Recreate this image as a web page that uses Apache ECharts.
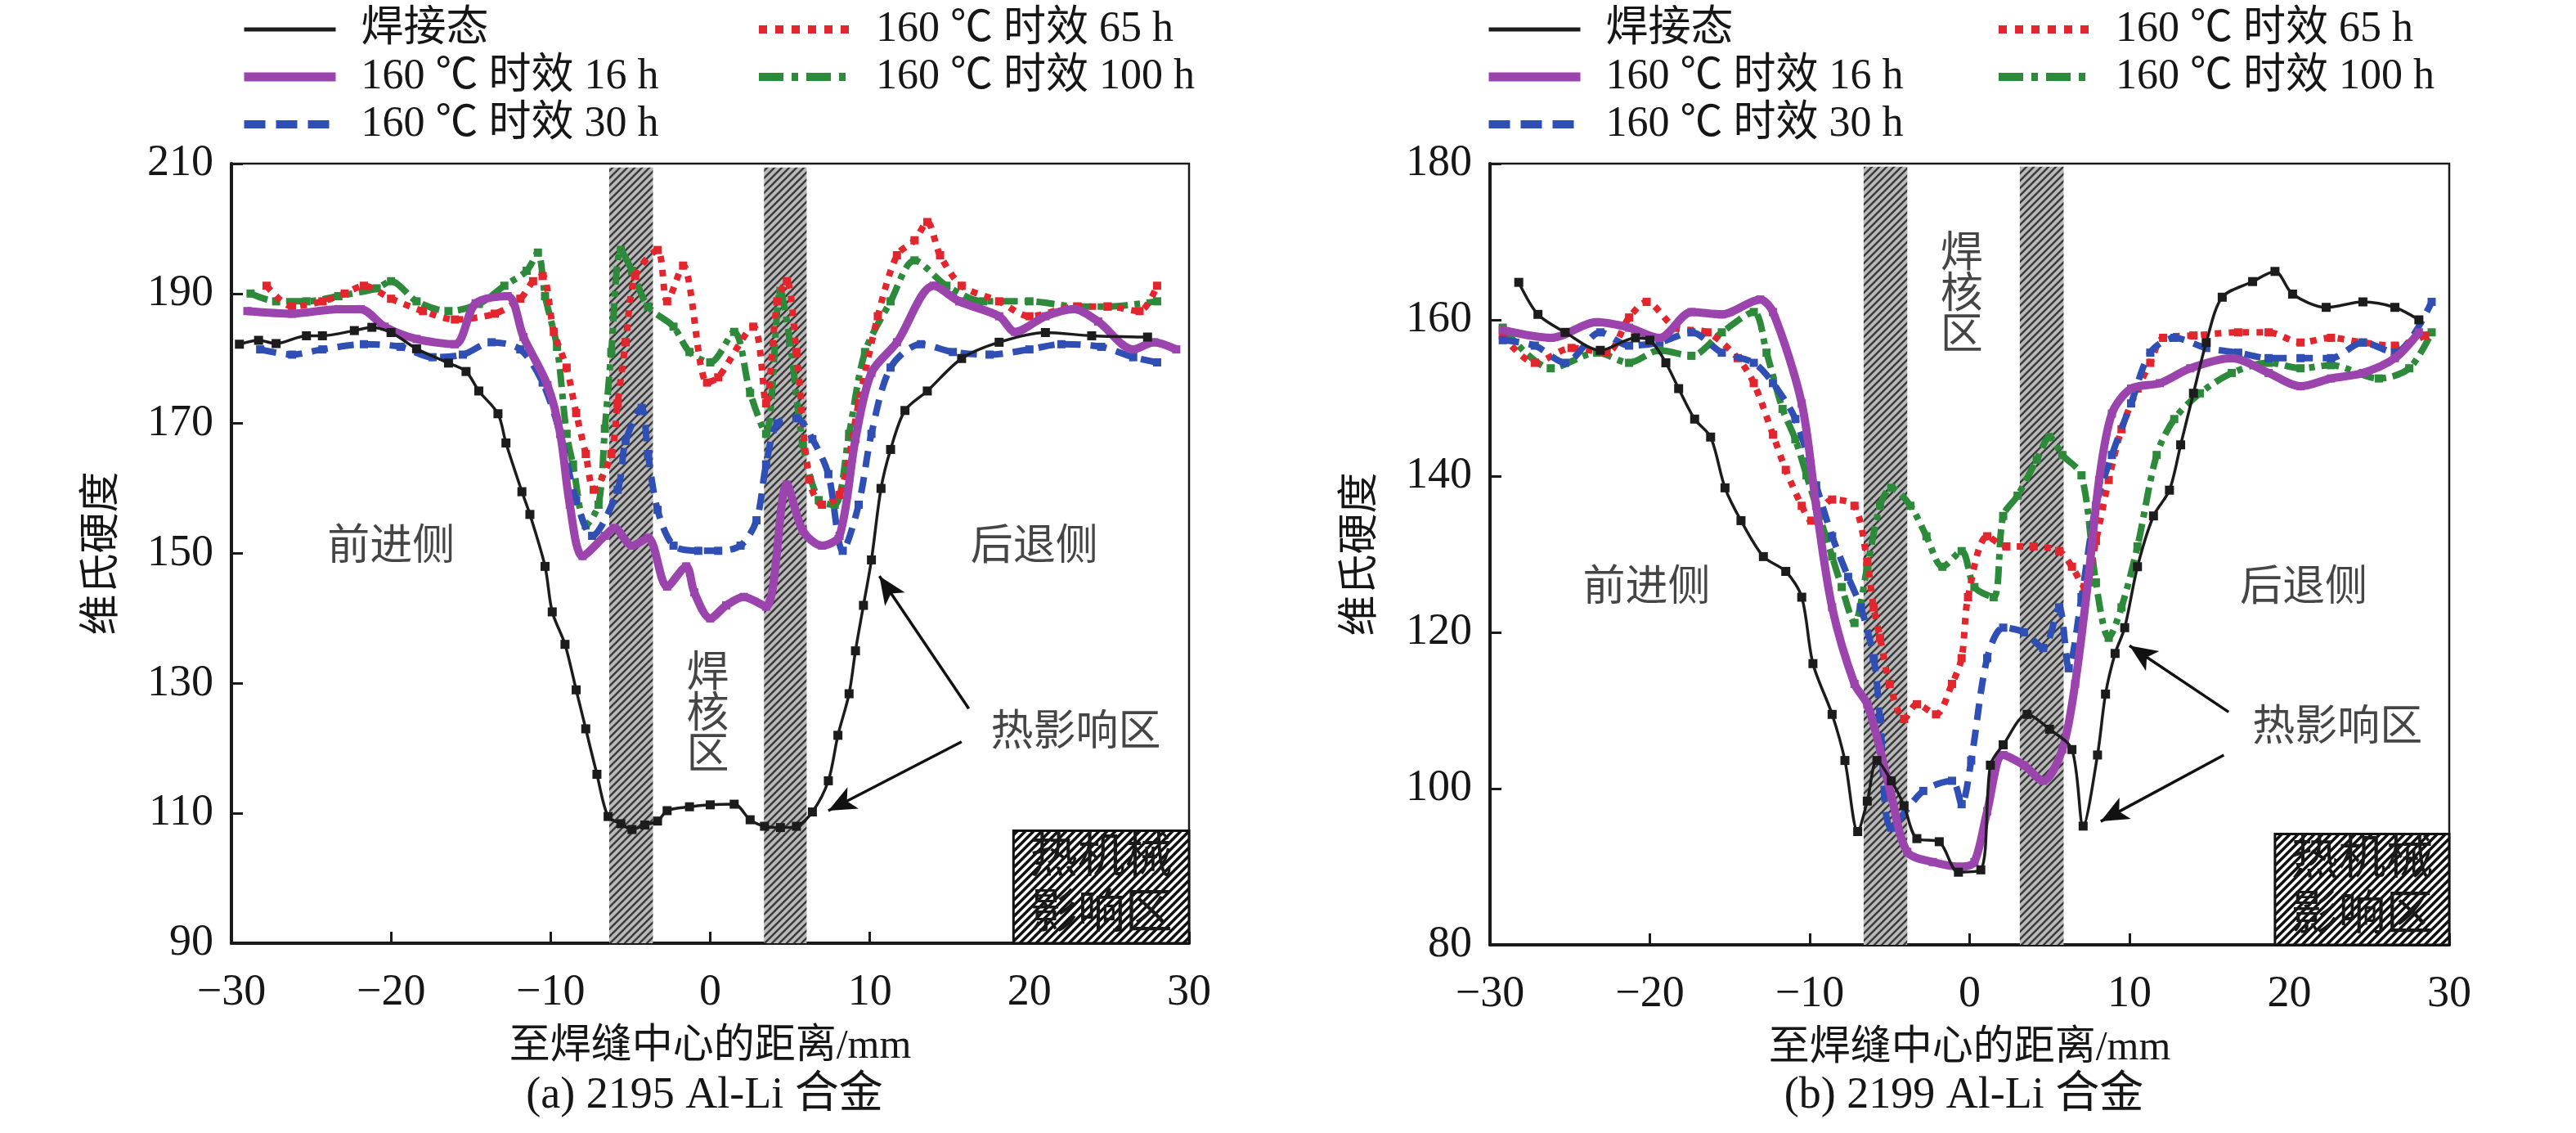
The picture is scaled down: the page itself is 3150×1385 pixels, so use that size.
<!DOCTYPE html>
<html style="height: 100%">
<head>
<meta charset="utf-8">
</head>
<body style="height: 100%; margin: 0; background: #fff">
<div id="container" style="width: 3150px; height: 1385px"></div>
<script type="text/javascript" src="https://cdn.jsdelivr.net/npm/echarts@6/dist/echarts.min.js"></script>
<script type="text/javascript">
// series names (legend)
var names = ['焊接态', '160 ℃ 时效 16 h', '160 ℃ 时效 30 h', '160 ℃ 时效 65 h', '160 ℃ 时效 100 h'];
var subtitles = ['(a) 2195 Al-Li 合金', '(b) 2199 Al-Li 合金'];
var xName = '至焊缝中心的距离/mm';
var yName = '维氏硬度';

// (a) 2195 -- [distance mm, HV]
var weldA = [[-29.5,182.2],[-28.3,182.8],[-27.2,182.3],[-25.3,183.5],[-24.3,183.5],[-22.3,184.3],[-21.2,184.8],[-20,184],[-18.4,181.5],[-16.4,179.3],[-15.3,178],[-14.5,175],[-13.3,171.5],[-12.8,167],[-11.8,159.5],[-11.3,156],[-10.35,148],[-9.9,141],[-9.1,136],[-8.4,129],[-7.8,123],[-7.1,116],[-6.4,109.5],[-5.6,108.4],[-4.9,107.5],[-4.1,108.2],[-3.3,108.8],[-2.7,110.4],[-1.3,111],[0,111.3],[1.5,111.4],[2.5,109],[3.4,108],[4.4,107.8],[5.4,108],[6.4,110.2],[7.4,115],[8,122],[8.7,128.4],[9.1,135],[9.6,142],[10.1,149],[10.7,160],[11.3,166],[12.2,172],[13.6,175],[15.75,180],[18.1,182.5],[21,184],[23.9,183.5],[27.4,183.3]];
var h16A = [[-29,187.3],[-26.2,186.9],[-23.3,187.6],[-21.9,187.6],[-20.4,184.9],[-18.4,183],[-16,182.2],[-14.7,188.5],[-12.7,189.6],[-11.7,183.3],[-10.2,175.9],[-9.4,168.4],[-8.8,157.5],[-8,149.6],[-6.6,152.7],[-6,153.9],[-4.9,151.2],[-3.9,152.4],[-2.7,144.9],[-1.5,148],[-1,144],[0,140],[1,142],[2.1,143.3],[3.5,141.8],[4.8,160.6],[5.8,153.5],[7,151.2],[8.1,152.7],[9.1,167.6],[10.1,177.8],[11.7,182.5],[14,191.2],[15.6,188.8],[18.1,186.5],[19.1,184.1],[21,186.5],[22.8,187.6],[24.3,185.7],[26.5,181.4],[27.8,182.5],[29.2,181.4]];
var h30A = [[-28.2,181.4],[-26.2,180.6],[-24.3,181.4],[-21.7,182.2],[-19.4,181.8],[-17.4,180.2],[-15.5,180.6],[-13.7,182.5],[-11.9,181.4],[-10.5,176.3],[-9.4,168.4],[-8.4,158.2],[-7.4,152.7],[-5.8,159.8],[-5.3,167.3],[-4.3,172.4],[-3.9,165.3],[-3.3,156.7],[-2.3,151.2],[-0.75,150.4],[0.5,150.4],[1.9,151.2],[2.9,155.1],[3.5,163.7],[4.2,170],[5.4,170.8],[6.4,167.6],[7.4,162.2],[8.3,150.4],[9.3,157.5],[10.1,168.4],[11.3,178.6],[13.2,182.2],[15.2,181],[17.5,180.6],[20,181.4],[22,182.2],[24.5,181.8],[26.5,180.2],[28,179.4]];
var h65A = [[-27.8,191.2],[-26.2,188],[-24.3,188.8],[-22.9,190],[-21.7,191.2],[-20,189.2],[-18,187.3],[-16,186],[-13.5,186.9],[-11.9,189.2],[-11.1,191.9],[-10.5,192.7],[-9.8,184.1],[-9,178.6],[-8.4,171.6],[-7.8,165.3],[-7.3,159.8],[-6.2,165.3],[-5.8,173.1],[-5.3,182.5],[-4.7,192.7],[-3.3,196.7],[-2.7,188.8],[-1.7,194.3],[-0.2,176.3],[0.5,177.1],[2.7,184.9],[3.5,173.1],[4.2,188.8],[4.8,191.9],[5.4,181],[6.2,161.4],[7,157.5],[8.1,159],[9.3,173.1],[10.5,186.5],[11.7,195.9],[12.8,198.2],[13.6,201],[14.4,195.9],[15.75,191.2],[18.1,188.8],[20,186.5],[23,188],[24.9,188],[26.9,187.3],[28,191.2]];
var h100A = [[-28.8,190],[-27.2,188.8],[-25.3,188.8],[-23.3,189.6],[-20.9,190.8],[-20,191.9],[-18.4,188.8],[-16.4,187.3],[-14.5,188.4],[-12.9,191.2],[-11.5,193.5],[-10.8,196.3],[-10.35,189.6],[-9.6,181.8],[-9,168.4],[-8.6,163.7],[-7.8,154.3],[-7,157.5],[-6.6,169.2],[-6.2,181],[-5.6,196.7],[-4.9,193.5],[-3.9,188],[-2.3,184.9],[-1.3,181],[0,179.4],[1.5,184.1],[2.5,174.7],[3.5,168.4],[4.4,190.4],[5,182.5],[5.8,166.9],[6.8,158.2],[7.8,157.5],[8.7,168.4],[9.7,181],[11.3,188.8],[12.8,195.1],[14.8,191.2],[17.1,188.8],[20,188.8],[23,188],[24.9,188],[28,188.8]];

// (b) 2199
var weldB = [[-28.2,164.8],[-27,160.7],[-25.3,158.4],[-23.1,156.1],[-20.9,157.7],[-20,157.4],[-19,154.5],[-18.2,151.2],[-17.2,147.3],[-16.2,145],[-15.3,138.5],[-14.3,134.3],[-12.9,129.7],[-11.5,127.8],[-10.5,124.5],[-9.8,116],[-8.6,109.5],[-7.8,103.6],[-7,94.5],[-6.4,98.4],[-5.8,103.6],[-4.9,101],[-4.1,97.8],[-3.3,93.6],[-1.9,93.2],[-0.7,89.3],[0.7,89.6],[1.3,103],[2.1,105.6],[3.6,109.5],[5,107.6],[6.4,105],[7.1,95.2],[8,104.3],[8.5,112.1],[9.1,117.3],[9.7,120.6],[10.5,128.4],[11.5,134.9],[12.5,138.2],[13.2,144],[14,150.6],[14.8,157.1],[15.8,162.9],[17.7,164.9],[19.1,166.2],[20.2,163.3],[22.3,161.6],[24.6,162.3],[26.6,161.6],[28.1,160]];
var h16B = [[-29.2,158.7],[-26.2,157.7],[-23.3,159.7],[-21.3,159],[-19.4,157.7],[-17.4,161],[-15.5,160.7],[-13.1,162.6],[-12.3,161],[-10.5,149.3],[-9.6,136.2],[-8.6,123.2],[-7.2,113.4],[-6.4,110.8],[-5.6,105],[-4.9,99.1],[-3.9,91.9],[-2.3,90.6],[-0.5,90],[0.3,90.6],[1.1,97.1],[2.1,104.3],[3.4,103],[4.6,101],[5.8,105],[6.6,113.4],[7.4,126.4],[8.1,139.5],[8.9,148],[10.1,151.2],[11.9,151.9],[13.8,153.8],[16.4,155.1],[18.7,153.2],[20.7,151.5],[22.6,152.5],[24.6,153.2],[26.6,155.1],[28.1,158.4]];
var h30B = [[-29.2,157.4],[-27.2,156.7],[-25.3,154.5],[-23.1,158.4],[-21.3,156.7],[-19.4,157.1],[-17.4,158.4],[-15.5,155.8],[-13.5,154.5],[-12.3,151.9],[-10.9,147.3],[-9.6,138.8],[-8.6,132.3],[-7.6,127.1],[-6.8,123.2],[-6,116.7],[-5.6,108.9],[-4.9,95],[-2.9,99.7],[-1.1,101],[-0.5,98],[0.1,103.6],[1.1,116.7],[2.1,120.6],[3.4,120],[4.6,118],[5.6,123.2],[6.2,115.4],[7,124.5],[7.9,136.2],[8.9,142.7],[10.1,149.3],[11.3,155.8],[12.8,157.7],[14.8,156.4],[16.8,155.8],[18.7,155.1],[20.7,155.1],[22.6,155.1],[24.6,157.1],[26.6,155.8],[28.9,162.3]];
var h65B = [[-29.2,158],[-27.2,154.5],[-24.9,156.4],[-22.7,155.8],[-21.3,160.3],[-20.2,162.3],[-18.4,159],[-16.4,158.4],[-14.5,155.1],[-13.5,151.9],[-12.3,145.3],[-11.5,140.8],[-10.5,136.2],[-9.9,134.3],[-8.6,137],[-7.2,136.2],[-6.4,129],[-6,123.2],[-5.6,119.3],[-5,113.4],[-4.1,108.9],[-3.3,110.8],[-2.1,109.5],[-1.1,113.4],[-0.5,116.7],[-0.1,124.5],[1.1,132.3],[2.3,131],[4,131],[5.6,130.4],[6.4,128.4],[7.2,125.8],[7.9,131.7],[8.7,139.5],[9.5,146],[10.5,151.2],[11.3,154.5],[12.1,157.7],[14,158],[16.8,158.4],[18.7,158.4],[20.7,157.1],[22.6,157.7],[24.6,157.1],[26.6,156.7],[28.5,158]];
var h100B = [[-29.2,159],[-26.2,153.8],[-23.3,155.8],[-21.3,154.5],[-19.4,156.1],[-17.4,155.4],[-15.5,158.4],[-13.5,161],[-12.7,155.8],[-11.7,148.6],[-10.9,144.7],[-10.2,140.1],[-9.4,134.9],[-8.6,129.7],[-8,125.8],[-7.2,121.2],[-6.4,128.4],[-5.6,136.2],[-4.9,138.5],[-3.7,136.2],[-2.7,132.3],[-1.7,128.4],[-0.5,130.4],[0.3,125.8],[1.5,124.5],[2.1,134.9],[3,137.5],[4.2,142.1],[5,145],[5.8,142.7],[7,140.1],[7.9,126.4],[8.7,119.3],[9.5,123.2],[10.5,131],[11.7,142.7],[12.8,147.3],[14.4,150.6],[16.4,153.2],[18.7,154.5],[20.7,153.8],[22.6,154.2],[25.6,152.5],[27.5,153.8],[28.9,158.4]];

// zones: stir-zone boundary bands and TMAZ legend box
var bandsA = [[-6.33, -3.59], [3.37, 6.04]];
var bandsB = [[-6.63, -3.9], [3.14, 5.88]];
var boxA = [19, 30, 90, 107.3];
var boxB = [19.1, 30, 80, 94.2];
var boxText = '热机械\n影响区';

// annotations [text, x, y]
var notesA = [['前进侧', -20, 150.8], ['后退侧', 20.3, 150.8], ['焊\n核\n区', -0.15, 125], ['热影响区', 22.9, 122.2]];
var notesB = [['前进侧', -20.2, 125.5], ['后退侧', 20.9, 125.5], ['焊\n核\n区', -0.5, 163], ['热影响区', 23, 107.6]];
var arrowsA = [[[16.2, 126.1], [10.6, 146.5]], [[15.75, 121], [7.4, 110.4]]];
var arrowsB = [[[16.2, 109.8], [10.0, 118.3]], [[15.9, 104.3], [8.2, 95.8]]];

var FONT = '"Liberation Serif", "Times New Roman", "Noto Sans CJK SC", serif';

var looks = [
    {color: '#1c1c1c', width: 3.5, type: 'solid', z: 7, lw: 5, ltype: 'solid'},
    {color: '#9b44ad', width: 10, type: 'solid', z: 6, lw: 11, ltype: 'solid'},
    {color: '#2f4fb5', width: 8, type: [20, 12], z: 5, lw: 10, ltype: [26, 13]},
    {color: '#e3262d', width: 8, type: [8, 9], z: 4, lw: 10, ltype: [10, 10]},
    {color: '#2d8a3a', width: 8, type: [22, 8, 7, 8], z: 3, lw: 10, ltype: [30, 10, 8, 10]}
];

function hatch(bg, fg, size, lw) {
    var c = document.createElement('canvas');
    c.width = size; c.height = size;
    var ctx = c.getContext('2d');
    ctx.fillStyle = bg;
    ctx.fillRect(0, 0, size, size);
    ctx.strokeStyle = fg;
    ctx.lineWidth = lw;
    ctx.beginPath();
    ctx.moveTo(-size, 2 * size); ctx.lineTo(2 * size, -size);
    ctx.moveTo(-size, size); ctx.lineTo(size, -size);
    ctx.moveTo(0, 2 * size); ctx.lineTo(2 * size, 0);
    ctx.stroke();
    return c;
}
var bandFill = {image: hatch('#b9b9b9', '#3a3a3a', 9, 2.4), repeat: 'repeat'};
var boxFill = {image: hatch('#ffffff', '#111111', 10, 3.6), repeat: 'repeat'};

var dom = document.getElementById('container');
var myChart = echarts.init(dom);

var groups = [
    {data: [weldA, h16A, h30A, h65A, h100A], bands: bandsA, box: boxA, notes: notesA, arrows: arrowsA, ymin: 90, ymax: 210, top: 209.4},
    {data: [weldB, h16B, h30B, h65B, h100B], bands: bandsB, box: boxB, notes: notesB, arrows: arrowsB, ymin: 80, ymax: 180, top: 179.6}
];

var series = [];
groups.forEach(function (g, gi) {
    // data lines
    g.data.forEach(function (d, i) {
        var lk = looks[i];
        series.push({
            name: names[i],
            type: 'line',
            xAxisIndex: gi,
            yAxisIndex: gi,
            data: d,
            smooth: 0.3,
            symbol: 'rect',
            symbolSize: i === 0 ? 11 : 10,
            showAllSymbol: true,
            z: lk.z,
            lineStyle: {color: lk.color, width: lk.width, type: lk.type},
            itemStyle: {color: lk.color},
            emphasis: {disabled: true}
        });
    });
    // zones, text and arrows
    var areas = g.bands.map(function (b) {
        return [{xAxis: b[0], yAxis: g.ymin, itemStyle: {color: bandFill, borderWidth: 0}},
                {xAxis: b[1], yAxis: g.top}];
    });
    areas.push([{xAxis: g.box[0], yAxis: g.box[2],
                 itemStyle: {color: boxFill, borderColor: '#111', borderWidth: 3},
                 label: {show: true, position: 'inside', formatter: boxText, fontSize: 58,
                         lineHeight: 68, color: '#1a1a1a', fontFamily: FONT}},
                {xAxis: g.box[1], yAxis: g.box[3]}]);
    series.push({
        type: 'scatter',
        xAxisIndex: gi,
        yAxisIndex: gi,
        z: 1,
        silent: true,
        symbolSize: 0,
        data: g.notes.map(function (n) { return {name: n[0], value: [n[1], n[2]]}; }),
        label: {show: true, position: 'inside', formatter: '{b}', fontSize: 52, lineHeight: 50,
                color: '#161616', fontFamily: FONT},
        markArea: {silent: true, data: areas, label: {show: false}},
        markLine: {
            silent: true,
            symbol: ['none', 'arrow'],
            symbolSize: [22, 34],
            label: {show: false},
            lineStyle: {color: '#111', width: 3.5, type: 'solid'},
            data: g.arrows.map(function (a) { return [{coord: a[0]}, {coord: a[1]}]; })
        }
    });
});

var gridsPos = [{left: 283, top: 200, width: 1171, height: 953}, {left: 1822, top: 200, width: 1173, height: 955}];

function xAxisOf(gi) {
    return {
        gridIndex: gi, type: 'value', min: -30, max: 30, interval: 10,
        name: xName, nameLocation: 'middle', nameGap: 102,
        nameTextStyle: {fontSize: 50, color: '#161616', fontFamily: FONT},
        axisLine: {onZero: false, lineStyle: {color: '#1a1a1a', width: 4}},
        axisTick: {inside: true, length: 14, lineStyle: {width: 3, color: '#1a1a1a'}},
        axisLabel: {fontSize: 54, color: '#161616', fontFamily: FONT, margin: 34,
                    formatter: function (v) { return v < 0 ? '\u2212' + (-v) : String(v); }},
        splitLine: {show: false}
    };
}
function yAxisOf(gi) {
    var g = groups[gi];
    return {
        gridIndex: gi, type: 'value', min: g.ymin, max: g.ymax, interval: 20,
        name: yName, nameLocation: 'middle', nameGap: 132,
        nameTextStyle: {fontSize: 50, color: '#161616', fontFamily: FONT},
        axisLine: {onZero: false, lineStyle: {color: '#1a1a1a', width: 4}},
        axisTick: {inside: true, length: 14, lineStyle: {width: 3, color: '#1a1a1a'}},
        axisLabel: {fontSize: 54, color: '#161616', fontFamily: FONT, margin: 22},
        splitLine: {show: false}
    };
}

function legendAt(left, idx) {
    return {
        orient: 'vertical', top: 3, left: left, itemWidth: 112, itemHeight: 16, itemGap: 2,
        selectedMode: false,
        itemStyle: {opacity: 0},
        formatter: function (n) { return '  ' + n; },
        textStyle: {fontSize: 52, lineHeight: 56, color: '#161616', fontFamily: FONT},
        data: idx.map(function (i) {
            var lk = looks[i];
            return {name: names[i], lineStyle: {color: lk.color, width: lk.lw, type: lk.ltype}};
        })
    };
}

var option = {
    animation: false,
    backgroundColor: '#fff',
    title: subtitles.map(function (t, i) {
        var p = gridsPos[i];
        return {text: t, left: p.left + p.width / 2 - 12, top: 1308, textAlign: 'center',
                textStyle: {fontSize: 54, fontWeight: 'normal', color: '#161616', fontFamily: FONT}};
    }),
    grid: gridsPos.map(function (p) {
        return Object.assign({show: true, borderColor: '#1a1a1a', borderWidth: 2.5, backgroundColor: 'transparent'}, p);
    }),
    legend: [
        legendAt(288, [0, 1, 2]),
        legendAt(918, [3, 4]),
        legendAt(1810, [0, 1, 2]),
        legendAt(2434, [3, 4])
    ],
    xAxis: [xAxisOf(0), xAxisOf(1)],
    yAxis: [yAxisOf(0), yAxisOf(1)],
    series: series
};

myChart.setOption(option);
</script>
</body>
</html>
